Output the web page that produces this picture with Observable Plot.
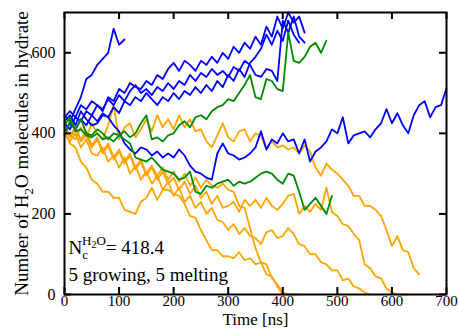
<!DOCTYPE html>
<html><head><meta charset="utf-8">
<script src="https://cdn.jsdelivr.net/npm/d3@7"></script>
<script src="https://cdn.jsdelivr.net/npm/@observablehq/plot@0.6"></script>
<style>body{margin:0;background:#fff}</style>
</head><body><div id="chart"></div>
<script>
// Sampling times (ns)
const times = [0,10,20,30,40,50,60,70,80,90,100,110,120,130,140,150,160,170,180,190,
  200,210,220,230,240,250,260,270,280,290,300,310,320,330,340,350,360,370,380,390,
  400,410,420,430,440,450,460,470,480,490,500,510,520,530,540,550,560,570,580,590,
  600,610,620,630,640,650,660,670,680,690,700];

// Growing trajectories (blue)
const blue1 = [445,430,460,490,535,545,570,585,600,660,620,633];
const blue2 = [440,455,440,470,460,480,470,455,490,480,510,500,525,515,510,530,520,545,535,560,
  575,555,580,570,555,580,570,590,575,600,585,615,600,625,610,640,620,665,640,690,660,700,675,690,650];
const blue3 = [425,410,440,430,455,445,470,460,485,470,495,480,505,520,500,510,495,515,505,525,
  510,530,520,545,530,550,540,560,545,555,540,565,555,580,570,545,540,560,555,530,680,650,690,640,625];
const blue4 = [400,425,410,435,420,445,430,450,440,465,450,480,470,490,480,500,485,470,490,480,
  500,485,505,495,515,500,520,505,530,515,545,530,560,540,575,590,610,645,620,655,630,680,645,625];
const blue5 = [430,445,420,455,435,420,425,445,440,420,405,375,360,350,365,360,345,355,340,350,
  340,360,345,320,305,300,290,285,350,375,350,345,335,340,350,365,405,360,385,375,
  400,380,385,350,385,330,355,365,380,410,400,440,375,395,400,405,390,410,425,460,
  425,450,420,400,445,470,480,440,465,470,512];

// Undecided trajectories (green)
const green1 = [395,430,410,435,400,395,410,400,385,400,395,405,390,400,425,445,385,390,380,395,
  400,420,430,415,440,445,435,455,465,470,485,480,500,520,545,490,485,535,530,510,
  505,650,580,575,590,615,625,600,630];
const green2 = [420,440,405,410,395,390,400,385,390,380,395,385,375,340,335,330,340,325,310,305,
  300,285,290,305,255,250,270,265,275,280,285,270,280,275,280,290,300,305,300,285,
  275,300,295,255,210,225,240,220,200,245];

// Melting trajectories (orange)
const orange1 = [410,395,385,415,390,425,400,385,420,470,385,415,425,390,410,435,405,445,415,435,
  410,445,415,435,405,410,380,365,395,425,390,380,405,410,380,400,395,360,380,365,
  370,360,365,350,370,355,315,295,325,310,300,285,270,245,245,220,220,210,195,160,
  120,145,110,105,65,50];
const orange2 = [415,390,410,380,395,365,385,350,370,335,355,325,345,310,330,295,315,285,305,275,
  290,260,280,250,270,240,255,225,245,215,220,230,205,235,220,235,215,240,220,210,
  225,245,250,200,220,205,225,210,265,205,195,175,170,150,135,75,65,45,40,15,5,0,0,0];
const orange3 = [400,380,400,365,385,350,345,365,330,345,315,340,300,320,285,305,275,295,260,280,
  245,265,230,245,215,230,200,215,185,180,160,175,150,165,145,140,125,155,160,140,
  145,165,150,125,120,100,100,80,75,60,60,35,40,20,15,5,0];
const orange4 = [420,395,415,385,405,370,390,355,375,340,360,330,350,315,335,300,320,295,315,285,
  305,280,300,270,290,265,285,270,265,275,260,255,220,215,165,115,80,75,40,25,5,0,0,0];
const orange5 = [405,375,365,330,315,285,275,255,255,240,240,210,205,200,230,240,265,235,260,260,
  250,245,225,195,190,160,135,110,110,95,95,90,105,85,90,75,80,50,45,20,0,0,0];

const xTicks = [0,100,200,300,400,500,600,700];
const yTicks = [0,200,400,600];

const BLUE = "#0000ff", GREEN = "#008a00", ORANGE = "#ffa500";
const series = [
  {values: orange1, color: ORANGE}, {values: orange2, color: ORANGE}, {values: orange3, color: ORANGE},
  {values: orange4, color: ORANGE}, {values: orange5, color: ORANGE},
  {values: blue1, color: BLUE}, {values: blue2, color: BLUE}, {values: blue3, color: BLUE},
  {values: blue4, color: BLUE}, {values: blue5, color: BLUE},
  {values: green1, color: GREEN}, {values: green2, color: GREEN}
];
const toRows = vals => vals.map((v, i) => ({t: times[i], v}));

const W = 458, H = 328, mL = 64, mR = 12, mT = 12, mB = 34;
const innerW = W - mL - mR, innerH = H - mT - mB, tickLen = 7;
const FONT = "'Liberation Serif', 'Times New Roman', serif";

const chart = Plot.plot({
  width: W, height: H, marginLeft: mL, marginRight: mR, marginTop: mT, marginBottom: mB,
  style: {fontFamily: FONT, fontSize: "16px", background: "white", color: "black"},
  x: {domain: [0, 700]},
  y: {domain: [0, 700]},
  marks: [
    ...series.map(s => Plot.line(toRows(s.values), {x: "t", y: "v", stroke: s.color, strokeWidth: 1.8})),
    Plot.tickX(xTicks, {x: d => d, insetTop: innerH - tickLen, stroke: "black", strokeWidth: 2}),
    Plot.tickX(xTicks, {x: d => d, insetBottom: innerH - tickLen, stroke: "black", strokeWidth: 2}),
    Plot.tickY(yTicks, {y: d => d, insetRight: innerW - tickLen, stroke: "black", strokeWidth: 2}),
    Plot.tickY(yTicks, {y: d => d, insetLeft: innerW - tickLen, stroke: "black", strokeWidth: 2}),
    Plot.frame({stroke: "black", strokeWidth: 2}),
    Plot.axisX(xTicks, {tickSize: 0, tickPadding: 1, label: null, fontSize: 15}),
    Plot.axisY(yTicks, {tickSize: 0, tickPadding: 9, label: null, fontSize: 16}),
    Plot.text(["Time [ns]"], {frameAnchor: "bottom", dy: 30, fontSize: 17, lineAnchor: "bottom", textAnchor: "middle"}),
    Plot.text(["YLABEL"], {frameAnchor: "left", rotate: -90, dx: -43, fontSize: 19, lineAnchor: "middle", textAnchor: "middle"}),
    Plot.text(["NCLABEL"], {frameAnchor: "bottom-left", dx: 4, dy: -41, fontSize: 19, textAnchor: "start", lineAnchor: "bottom"}),
    Plot.text(["5 growing, 5 melting"], {frameAnchor: "bottom-left", dx: 4, dy: -14, fontSize: 19, textAnchor: "start", lineAnchor: "bottom"})
  ]
});
document.getElementById("chart").appendChild(chart);

// Rich text (sub/superscripts)
const svg = d3.select(chart);
svg.selectAll("text").filter(function(){ return this.textContent === "YLABEL"; }).each(function(){
  const t = d3.select(this); t.text(null);
  t.append("tspan").text("Number of H");
  t.append("tspan").attr("font-size", 13).attr("dy", 5).text("2");
  t.append("tspan").attr("dy", -5).text("O molecules in hydrate");
});
svg.selectAll("text").filter(function(){ return this.textContent === "NCLABEL"; }).each(function(){
  const t = d3.select(this); t.text(null);
  t.append("tspan").text("N");
  t.append("tspan").attr("font-size", 13).attr("dy", 5).text("c");
  t.append("tspan").attr("font-size", 13).attr("dx", -6).attr("dy", -14).text("H");
  t.append("tspan").attr("font-size", 10).attr("dy", 3).text("2");
  t.append("tspan").attr("font-size", 13).attr("dy", -3).text("O");
  t.append("tspan").attr("dy", 9).text("= 418.4");
});
</script>
</body></html>
